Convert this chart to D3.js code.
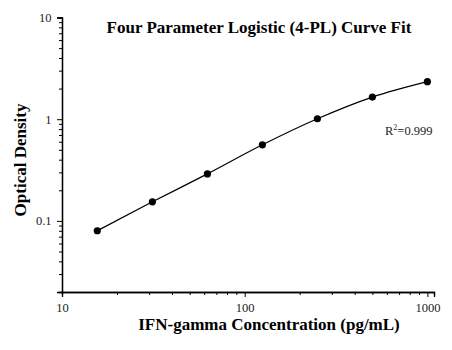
<!DOCTYPE html>
<html>
<head>
<meta charset="utf-8">
<script src="https://cdn.jsdelivr.net/npm/d3@7"></script>
<style>
  html, body { margin: 0; padding: 0; background: #fff; }
  svg text { font-family: "Liberation Serif", "Times New Roman", serif; }
</style>
</head>
<body>
<svg id="chart" width="452" height="350"></svg>
<script>
// Standard concentrations (pg/mL) and measured optical density
const concentrations = [15.6, 31.25, 62.5, 125, 250, 500, 1000];
const densities = [0.080, 0.154, 0.290, 0.560, 1.01, 1.65, 2.34];
const xTickValues = [10, 100, 1000];
const yTickValues = [0.1, 1, 10];
const rSquared = "0.999";

const svg = d3.select("#chart");
const margin = { left: 62, top: 17.5, right: 18, bottom: 58 };
const width = 452, height = 350;

const x = d3.scaleLog().domain([10, 1087]).range([margin.left, width - margin.right]);
const y = d3.scaleLog().domain([0.02, 10]).range([height - margin.bottom, margin.top]);

// minor tick values
const xMinor = [];
for (let d = 10; d < 1000; d *= 10) for (let k = 2; k <= 9; k++) xMinor.push(d * k);
const yMinor = [];
for (let d = 0.01; d < 10; d *= 10) for (let k = 2; k <= 9; k++) if (d * k >= 0.02) yMinor.push(d * k);

const xAxisG = svg.append("g").attr("transform", `translate(0,${height - margin.bottom})`);
xAxisG.call(d3.axisBottom(x).tickValues(xMinor).tickSize(3).tickFormat(""));
xAxisG.call(g => g.append("g").call(d3.axisBottom(x).tickValues(xTickValues).tickSize(5).tickFormat(d3.format("d"))));

const yAxisG = svg.append("g").attr("transform", `translate(${margin.left},0)`);
yAxisG.call(d3.axisLeft(y).tickValues(yMinor).tickSize(3).tickFormat(""));
yAxisG.call(g => g.append("g").call(d3.axisLeft(y).tickValues(yTickValues).tickSize(5).tickFormat(d => d >= 1 ? d3.format("d")(d) : String(d))));

svg.selectAll(".domain").attr("stroke", "#000").attr("stroke-width", 1.3);
svg.selectAll(".tick line").attr("stroke", "#000").attr("stroke-width", 1);
svg.selectAll(".tick text")
  .attr("font-family", "Liberation Serif, serif")
  .attr("font-size", 12.5)
  .attr("fill", "#222");
xAxisG.selectAll(".tick text").attr("dy", "0.92em");
yAxisG.selectAll(".tick text").attr("dx", "-0.2em");

// fitted curve through the standards
const pts = concentrations.map((c, i) => [c, densities[i]]);
svg.append("path")
  .datum(pts)
  .attr("fill", "none")
  .attr("stroke", "#000")
  .attr("stroke-width", 1.2)
  .attr("d", d3.line().x(d => x(d[0])).y(d => y(d[1])).curve(d3.curveMonotoneX));

svg.selectAll("circle.pt")
  .data(pts)
  .join("circle")
  .attr("class", "pt")
  .attr("cx", d => x(d[0]))
  .attr("cy", d => y(d[1]))
  .attr("r", 3.6)
  .attr("fill", "#000");

// title and axis labels
svg.append("text")
  .attr("x", 259).attr("y", 33)
  .attr("text-anchor", "middle")
  .attr("font-weight", "bold")
  .attr("font-size", 17)
  .text("Four Parameter Logistic (4-PL) Curve Fit");

svg.append("text")
  .attr("x", 269).attr("y", 330)
  .attr("text-anchor", "middle")
  .attr("font-weight", "bold")
  .attr("font-size", 17)
  .text("IFN-gamma Concentration (pg/mL)");

svg.append("text")
  .attr("transform", "translate(26,160) rotate(-90)")
  .attr("text-anchor", "middle")
  .attr("font-weight", "bold")
  .attr("font-size", 17)
  .text("Optical Density");

const r2 = svg.append("text")
  .attr("x", 385).attr("y", 135)
  .attr("font-size", 12.5)
  .attr("fill", "#222");
r2.append("tspan").text("R");
r2.append("tspan").attr("font-size", 8).attr("dy", -5).text("2");
r2.append("tspan").attr("dy", 5).text("=" + rSquared);
</script>
</body>
</html>
